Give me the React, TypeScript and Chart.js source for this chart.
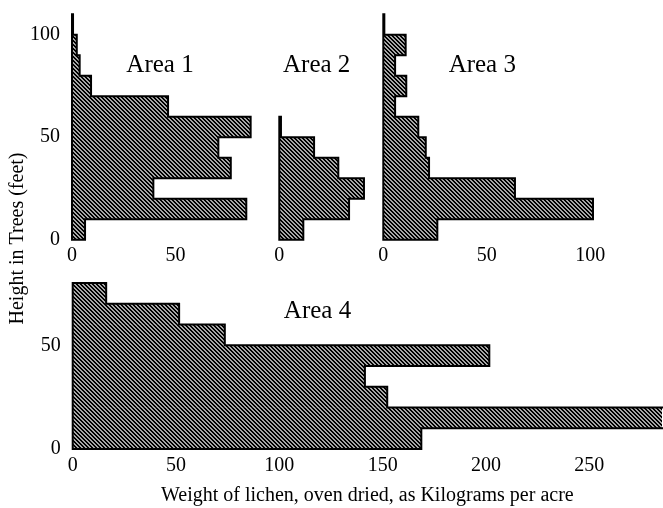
import React, { useEffect, useRef } from 'react';
import { Chart, registerables } from 'chart.js';

Chart.register(...registerables);

// ---- data ----
const binWidth = 10; // feet per height class
const heightBinsTop = [0, 10, 20, 30, 40, 50, 60, 70, 80, 90, 100];
const heightBinsArea2 = [0, 10, 20, 30, 40, 50];
const heightBinsArea4 = [0, 10, 20, 30, 40, 50, 60, 70];

const area1Weights = [6.3, 84.2, 39.3, 76.7, 70.7, 86.3, 46.4, 9.2, 3.7, 2.3, 0.5];
const area2Weights = [11.6, 33.7, 40.9, 28.5, 16.8, 0.8];
const area3Weights = [26.1, 101.3, 63.6, 22.1, 20.5, 16.9, 5.7, 11.1, 5.7, 10.8, 0.5];
const area4Weights = [168.7, 290, 152.2, 141.4, 201.6, 73.6, 51.5, 16.2];

const heightTicksTop = [0, 50, 100];
const heightTicksArea4 = [0, 50];
const weightTicksArea1 = [0, 50];
const weightTicksArea2 = [0];
const weightTicksArea3 = [0, 50, 100];
const weightTicksArea4 = [0, 50, 100, 150, 200, 250];

const yAxisTitle = 'Height in Trees (feet)';
const xAxisTitle = 'Weight of lichen, oven dried, as Kilograms per acre';

const W = 663;
const H = 508;
const FONT = '"Liberation Serif", "Times New Roman", serif';

Chart.defaults.font.family = FONT;
Chart.defaults.font.size = 20;
Chart.defaults.color = '#000';

type Panel = {
  name: string;
  lows: number[];
  vals: number[];
  xTicks: number[];
  yTicks: number[];
  xMax: number;
  yMax: number;
  showY: boolean;
  area: { left: number; right: number; top: number; bottom: number };
  xAxisH: number;
  xTitle?: string;
  texts: { text: string; x: number; y: number; font: string; rotate?: number }[];
};

const labelFont = `25px ${FONT}`;

const panels: Panel[] = [
  {
    name: 'Area 1',
    lows: heightBinsTop,
    vals: area1Weights,
    xTicks: weightTicksArea1,
    yTicks: heightTicksTop,
    xMax: 90,
    yMax: 110,
    showY: true,
    area: { left: 72, right: 72 + 90 * 2.07, top: 14.3, bottom: 239.7 },
    xAxisH: 30,
    texts: [{ text: 'Area 1', x: 160, y: 72, font: labelFont }],
  },
  {
    name: 'Area 2',
    lows: heightBinsArea2,
    vals: area2Weights,
    xTicks: weightTicksArea2,
    yTicks: heightTicksTop,
    xMax: 45,
    yMax: 110,
    showY: false,
    area: { left: 279.3, right: 279.3 + 45 * 2.07, top: 14.3, bottom: 239.7 },
    xAxisH: 30,
    texts: [{ text: 'Area 2', x: 316.7, y: 72, font: labelFont }],
  },
  {
    name: 'Area 3',
    lows: heightBinsTop,
    vals: area3Weights,
    xTicks: weightTicksArea3,
    yTicks: heightTicksTop,
    xMax: 110,
    yMax: 110,
    showY: false,
    area: { left: 383.3, right: 383.3 + 110 * 2.07, top: 14.3, bottom: 239.7 },
    xAxisH: 30,
    texts: [{ text: 'Area 3', x: 482.3, y: 71.7, font: labelFont }],
  },
  {
    name: 'Area 4',
    lows: heightBinsArea4,
    vals: area4Weights,
    xTicks: weightTicksArea4,
    yTicks: heightTicksArea4,
    xMax: (663 - 72.7) / 2.07,
    yMax: 80,
    showY: true,
    area: { left: 72.7, right: 663, top: 283, bottom: 449 },
    xAxisH: 59,
    xTitle: xAxisTitle,
    texts: [
      { text: 'Area 4', x: 317.5, y: 318.3, font: labelFont },
      { text: yAxisTitle, x: 23.3, y: 238.5, font: `20px ${FONT}`, rotate: -Math.PI / 2 },
    ],
  },
];

function outline(lows: number[], vals: number[]) {
  const pts: { x: number; y: number }[] = [{ x: 0, y: lows[0] }];
  vals.forEach((v, i) => {
    pts.push({ x: v, y: lows[i] });
    pts.push({ x: v, y: lows[i] + binWidth });
  });
  pts.push({ x: 0, y: lows[vals.length - 1] + binWidth });
  pts.push({ x: 0, y: lows[0] });
  return pts;
}

function makePattern(ctx: CanvasRenderingContext2D) {
  const c = document.createElement('canvas');
  c.width = 4;
  c.height = 4;
  const g = c.getContext('2d')!;
  const img = g.createImageData(4, 4);
  for (let y = 0; y < 4; y++) {
    for (let x = 0; x < 4; x++) {
      const dark = (((x - y) % 4) + 4) % 4 < 2;
      const v = dark ? 0 : 166;
      const k = (y * 4 + x) * 4;
      img.data[k] = v;
      img.data[k + 1] = v;
      img.data[k + 2] = v;
      img.data[k + 3] = 255;
    }
  }
  g.putImageData(img, 0, 0);
  return ctx.createPattern(c, 'repeat')!;
}

const textPlugin = {
  id: 'panelText',
  afterDraw(chart: any, _args: any, opts: any) {
    const ctx = chart.ctx as CanvasRenderingContext2D;
    (opts.items || []).forEach((it: any) => {
      ctx.save();
      ctx.font = it.font;
      ctx.fillStyle = '#000';
      ctx.textAlign = 'center';
      ctx.textBaseline = 'alphabetic';
      ctx.translate(it.x, it.y);
      if (it.rotate) ctx.rotate(it.rotate);
      ctx.fillText(it.text, 0, 0);
      ctx.restore();
    });
  },
};

function zeroPad(s: any) {
  s.paddingTop = 0;
  s.paddingBottom = 0;
  s.paddingLeft = 0;
  s.paddingRight = 0;
}

function makeChart(canvas: HTMLCanvasElement, p: Panel) {
  const ctx = canvas.getContext('2d')!;
  const pattern = makePattern(ctx);
  const yW = 70;
  const centers = p.lows.map((lo) => lo + binWidth / 2);
  return new Chart(canvas, {
    type: 'bar',
    data: {
      datasets: [
        {
          type: 'line',
          data: outline(p.lows, p.vals),
          borderColor: '#000',
          borderWidth: 2,
          pointRadius: 0,
          fill: false,
          tension: 0,
          borderCapStyle: 'square',
          borderJoinStyle: 'miter',
          clip: false,
          order: 0,
        } as any,
        {
          type: 'bar',
          data: p.vals.map((v, i) => ({ x: v, y: centers[i] })),
          backgroundColor: pattern,
          borderWidth: 0,
          barPercentage: 1,
          categoryPercentage: 1,
          order: 1,
        } as any,
      ],
    },
    options: {
      indexAxis: 'y',
      responsive: false,
      animation: false,
      devicePixelRatio: 1,
      events: [],
      layout: {
        padding: {
          left: p.area.left - yW,
          right: W - p.area.right,
          top: p.area.top,
          bottom: H - p.area.bottom - p.xAxisH,
        },
      },
      plugins: {
        legend: { display: false },
        tooltip: { enabled: false },
        title: { display: false },
        panelText: { items: p.texts },
      } as any,
      scales: {
        x: {
          type: 'linear',
          min: 0,
          max: p.xMax,
          offset: false,
          grid: { display: false, drawTicks: false, offset: false },
          border: { display: false },
          ticks: { padding: 4.5, autoSkip: false, maxRotation: 0, color: '#000', font: { size: 20 } },
          afterBuildTicks: (s: any) => {
            s.ticks = p.xTicks.map((v) => ({ value: v }));
          },
          afterFit: (s: any) => {
            s.height = p.xAxisH;
            zeroPad(s);
          },
          title: p.xTitle
            ? { display: true, text: p.xTitle, color: '#000', font: { size: 20 }, padding: { top: 0, bottom: 0 } }
            : { display: false },
        },
        y: {
          type: 'linear',
          min: 0,
          max: p.yMax,
          offset: false,
          grid: { display: false, drawTicks: false, offset: false },
          border: { display: false },
          ticks: { display: p.showY, padding: 12, autoSkip: false, color: '#000', font: { size: 20 } },
          afterBuildTicks: (s: any) => {
            s.ticks = p.yTicks.map((v) => ({ value: v }));
          },
          afterFit: (s: any) => {
            s.width = yW;
            zeroPad(s);
          },
        },
      },
    } as any,
    plugins: [textPlugin],
  });
}

export default function App() {
  const refs = useRef<(HTMLCanvasElement | null)[]>([]);
  useEffect(() => {
    const charts = panels.map((p, i) => makeChart(refs.current[i]!, p));
    let alive = true;
    if ((document as any).fonts && (document as any).fonts.load) {
      (document as any).fonts.load(`20px "Liberation Serif"`).then(() => {
        if (alive) charts.forEach((c) => c.update());
      });
    }
    return () => {
      alive = false;
      charts.forEach((c) => c.destroy());
    };
  }, []);
  return (
    <div style={{ position: 'absolute', left: 0, top: 0, width: W, height: H, background: '#fff', overflow: 'hidden' }}>
      {panels.map((p, i) => (
        <canvas
          key={p.name}
          ref={(el) => {
            refs.current[i] = el;
          }}
          width={W}
          height={H}
          style={{ position: 'absolute', left: 0, top: 0, width: W, height: H }}
        />
      ))}
    </div>
  );
}
